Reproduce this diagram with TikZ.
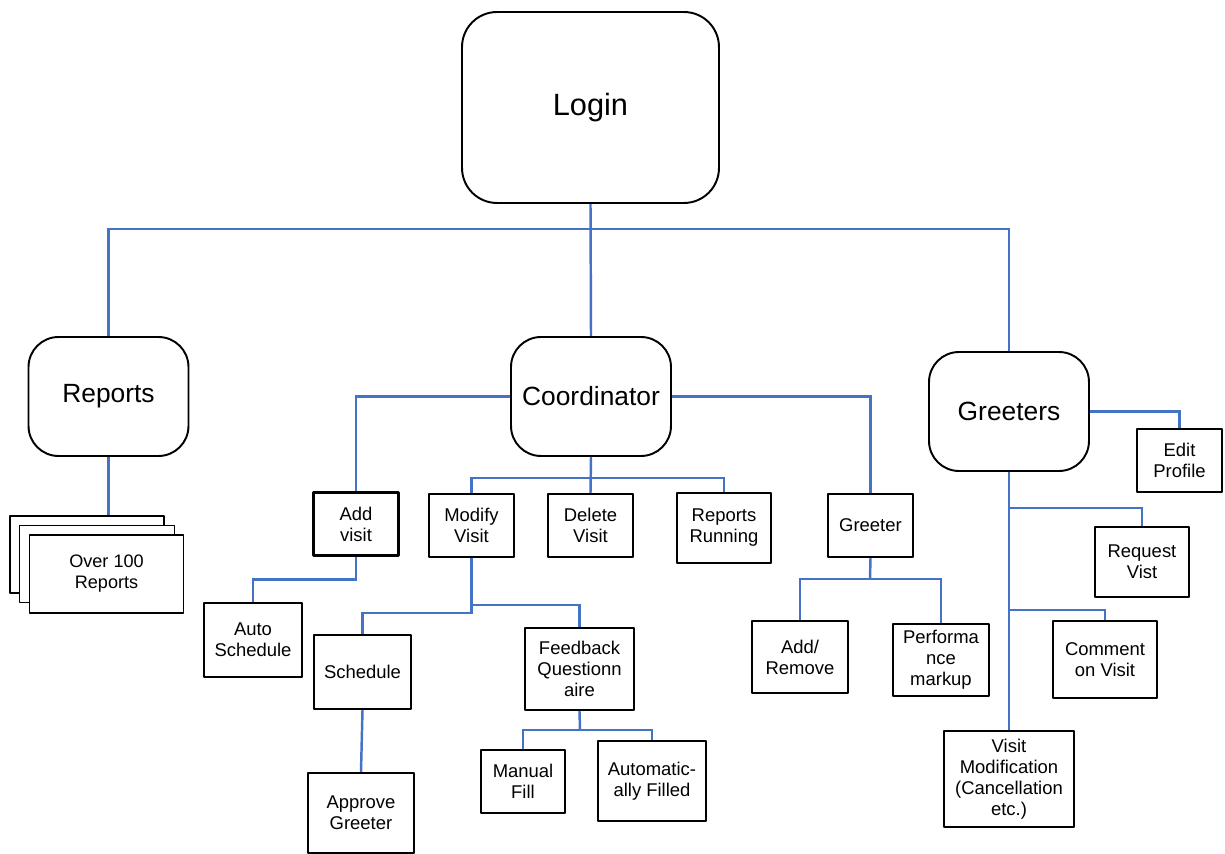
\documentclass[tikz,border=0pt]{standalone}
\usepackage{fontspec}
\setmainfont{Liberation Sans}
\usetikzlibrary{backgrounds}
\definecolor{linkblue}{RGB}{68,114,196}
\tikzset{
  bigbox/.style={draw=black, line width=1.1pt, rounded corners=0.6cm, fill=white,
    minimum width=3.2cm, minimum height=2.38cm, font=\fontsize{15}{18}\selectfont},
  smallbox/.style={draw=black, line width=1.4pt, fill=white, align=center, inner sep=1pt,
    font=\fontsize{10.5}{12}\selectfont},
  sheet/.style={draw=black, line width=1pt, fill=white, minimum width=3.08cm, minimum height=1.54cm},
  link/.style={draw=linkblue, line width=1.4pt},
}
\begin{document}
\begin{tikzpicture}[x=0.02cm, y=-0.02cm, line join=round]
	\useasboundingbox (0,0) rectangle (1225,854);
	% main boxes
	\node[bigbox, rounded corners=0.7cm, minimum width=5.14cm, minimum height=3.82cm,
	  font=\fontsize{17.5}{20}\selectfont] (login) at (590.5,107.5) {Login};
	\node[bigbox] (reports) at (108.5,396.5) {Reports};
	\node[bigbox] (coord) at (591,396.5) {Coordinator};
	\node[bigbox] (greeters) at (1009,411.5) {Greeters};
	% stack of reports
	\node[sheet] (sheetA) at (87,554.5) {};
	\node[sheet, minimum width=3.1cm] (sheetB) at (97,564) {};
	\node[sheet, minimum height=1.56cm, align=center, font=\fontsize{10.3}{12}\selectfont] (sheetC) at (106.5,574) {Over 100\\Reports};
	% coordinator tasks
	\node[smallbox, minimum width=1.7cm, minimum height=1.26cm] (addvisit) at (356,524) {Add\\visit};
	\node[smallbox, minimum width=1.7cm, minimum height=1.26cm] (modify) at (471.5,525.5) {Modify\\Visit};
	\node[smallbox, minimum width=1.7cm, minimum height=1.26cm] (delete) at (590.5,525.5) {Delete\\Visit};
	\node[smallbox, minimum width=1.88cm, minimum height=1.4cm] (running) at (724,528) {Reports\\Running};
	\node[smallbox, minimum width=1.7cm, minimum height=1.26cm] (greeter) at (870.5,525.5) {Greeter};
	\node[smallbox, minimum width=1.96cm, minimum height=1.48cm] (autosched) at (253,640) {Auto\\Schedule};
	\node[smallbox, minimum width=1.94cm, minimum height=1.48cm] (schedule) at (362.5,672) {Schedule};
	\node[smallbox, minimum width=2.18cm, minimum height=1.64cm] (feedback) at (579.5,669) {Feedback\\Questionn\\aire};
	\node[smallbox, minimum width=2.12cm, minimum height=1.6cm] (approve) at (361,813) {Approve\\Greeter};
	\node[smallbox, minimum width=1.68cm, minimum height=1.26cm] (manual) at (523,781.5) {Manual\\Fill};
	\node[smallbox, minimum width=2.16cm, minimum height=1.6cm] (autofill) at (652,781) {Automatic-\\ally Filled};
	\node[smallbox, minimum width=1.92cm, minimum height=1.44cm] (addremove) at (800,657) {Add/\\Remove};
	\node[smallbox, minimum width=1.92cm, minimum height=1.44cm] (perf) at (941,660) {Performa\\nce\\markup};
	% greeter tasks
	\node[smallbox, minimum width=1.7cm, minimum height=1.26cm] (editprof) at (1179.5,460.5) {Edit\\Profile};
	\node[smallbox, minimum width=1.88cm, minimum height=1.4cm] (request) at (1142,562) {Request\\Vist};
	\node[smallbox, minimum width=2.08cm, minimum height=1.54cm] (comment) at (1105,659.5) {Comment\\on Visit};
	\node[smallbox, minimum width=2.6cm, minimum height=1.92cm] (visitmod) at (1009,779) {Visit\\Modification\\(Cancellation\\etc.)};
	% junctions
	\coordinate (bus) at (591,229);
	\coordinate (cbus) at (591,478);
	\coordinate (fbus) at (580,730);
	\coordinate (gbus) at (870,579);
	% connectors, kept under the boxes
	\begin{scope}[on background layer]
	\draw[link] (login.south) -- (coord.north);
	\draw[link] (reports.north) |- (bus) -| (greeters.north);
	\draw[link] (reports.south) -- (reports.south |- sheetA.north);
	\draw[link] (coord.west) -| (addvisit.north);
	\draw[link] (coord.east) -| (greeter.north);
	\draw[link] (coord.south) -- (delete.north);
	\draw[link] (modify.north) |- (cbus) -| (running.north);
	\draw[link] (addvisit.south) -- ++(0,23) -| (autosched.north);
	\draw[link] (modify.south) -- ++(0,55) -| (schedule.north);
	\draw[link] (modify.south) ++(0,47) -| (feedback.north);
	\draw[link] (schedule.south) -- (approve.north);
	\draw[link] (feedback.south) -- (fbus);
	\draw[link] (manual.north) |- (fbus) -| (autofill.north);
	\draw[link] (greeter.south) -- (gbus);
	\draw[link] (addremove.north) |- (gbus) -| (perf.north);
	\draw[link] (greeters.east) -| (editprof.north);
	\draw[link] (greeters.south) -- (visitmod.north);
	\draw[link] (greeters.south) ++(0,36) -| (request.north);
	\draw[link] (greeters.south) ++(0,138) -| (comment.north);
	\end{scope}
\end{tikzpicture}
\end{document}
